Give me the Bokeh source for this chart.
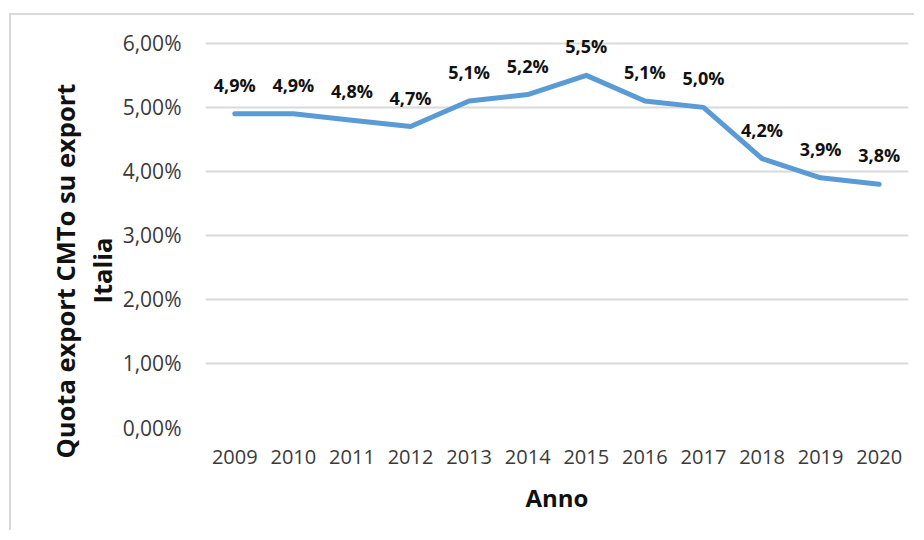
from bokeh.plotting import figure
from bokeh.models import ColumnDataSource, FactorRange, Range1d, FixedTicker, LabelSet, Title
from bokeh.core.properties import value
from bokeh.embed import file_html
from bokeh.resources import INLINE

years = ["2009", "2010", "2011", "2012", "2013", "2014", "2015", "2016", "2017", "2018", "2019", "2020"]
quota = [4.9, 4.9, 4.8, 4.7, 5.1, 5.2, 5.5, 5.1, 5.0, 4.2, 3.9, 3.8]
y_ticks = [0, 1, 2, 3, 4, 5, 6]
y_tick_labels = ["0,00%", "1,00%", "2,00%", "3,00%", "4,00%", "5,00%", "6,00%"]
point_labels = [f"{v:.1f}%".replace(".", ",") for v in quota]
y_title_line1 = "Quota export CMTo su export"
y_title_line2 = "Italia"
x_title = "Anno"

src = ColumnDataSource(dict(x=years, y=quota, lab=point_labels))

FONT = "Open Sans"

p = figure(
    x_range=FactorRange(factors=years),
    y_range=Range1d(0, 6.31),
    width=905, height=517,
    output_backend="svg", toolbar_location=None,
    min_border_left=194, min_border_right=8, min_border_top=8, min_border_bottom=105,
)
p.margin = (13, 0, 0, 9)
p.outline_line_color = None
p.background_fill_color = "white"
p.border_fill_color = "white"
p.styles = {"border-left": "2px solid #d9d9d9", "border-top": "2px solid #d9d9d9"}

p.xgrid.grid_line_color = None
p.ygrid.grid_line_color = "#d9d9d9"
p.ygrid.grid_line_width = 2

p.yaxis.ticker = FixedTicker(ticks=y_ticks)
p.yaxis.major_label_overrides = {t: l for t, l in zip(y_ticks, y_tick_labels)}

for ax in (p.xaxis, p.yaxis):
    ax.axis_line_color = None
    ax.major_tick_line_color = None
    ax.minor_tick_line_color = None
    ax.major_label_text_font = FONT
    ax.major_label_text_font_size = "21px"
    ax.major_label_text_color = "#3a3a3a"
    ax.axis_label_text_font = FONT
    ax.axis_label_text_font_size = "24px"
    ax.axis_label_text_font_style = "bold"
    ax.axis_label_text_color = "#111111"

p.xaxis.major_label_text_font_size = "20px"
p.xaxis.major_label_standoff = 16
p.xaxis.axis_label = x_title
p.xaxis.axis_label_standoff = 14
p.yaxis.major_label_standoff = 18

title_style = dict(text_font=FONT, text_font_size="25.5px", text_font_style="bold",
                   text_color="#111111", align="left")
p.add_layout(Title(text=y_title_line2, offset=124, standoff=2, **title_style), "left")
p.add_layout(Title(text=y_title_line1, offset=-31, standoff=0, **title_style), "left")

p.line("x", "y", source=src, line_color="#5B9BD5", line_width=5, line_join="round", line_cap="round")
labels = LabelSet(x="x", y="y", text="lab", source=src, y_offset=29,
                  text_font=value(FONT), text_font_size=value("18px"), text_font_style="bold",
                  text_align="center", text_baseline="middle", text_color="#111111")
p.add_layout(labels)

open("out.html", "w").write(file_html(p, INLINE))
